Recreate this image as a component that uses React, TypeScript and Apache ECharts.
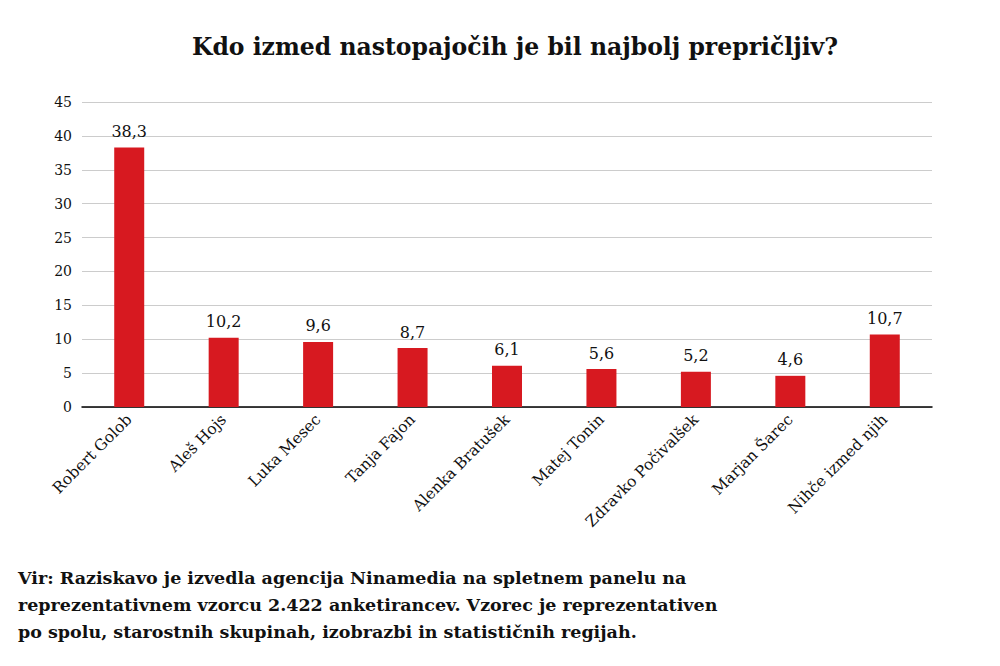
import React, { useEffect, useRef } from "react";
import * as echarts from "echarts";

const categories = [
  "Robert Golob",
  "Aleš Hojs",
  "Luka Mesec",
  "Tanja Fajon",
  "Alenka Bratušek",
  "Matej Tonin",
  "Zdravko Počivalšek",
  "Marjan Šarec",
  "Nihče izmed njih",
];
const values = [38.3, 10.2, 9.6, 8.7, 6.1, 5.6, 5.2, 4.6, 10.7];
const titleText = "Kdo izmed nastopajočih je bil najbolj prepričljiv?";
const footerLines = [
  "Vir: Raziskavo je izvedla agencija Ninamedia na spletnem panelu na",
  "reprezentativnem vzorcu 2.422 anketirancev. Vzorec je reprezentativen",
  "po spolu, starostnih skupinah, izobrazbi in statističnih regijah.",
];

const FONT = "DejaVu Serif";

export default function App() {
  const ref = useRef<HTMLDivElement>(null);
  useEffect(() => {
    if (!ref.current) return;
    const chart = echarts.init(ref.current, null, { renderer: "svg" });
    chart.setOption({
      animation: false,
      backgroundColor: "#ffffff",
      textStyle: { fontFamily: FONT },
      title: [
        {
          text: titleText,
          left: 502,
          textAlign: "center",
          top: 22,
          textStyle: { fontFamily: FONT, fontSize: 23.5, fontWeight: "bold", color: "#111111" },
        },
        {
          text: footerLines.join("\n"),
          left: 5,
          top: 551,
          textStyle: { fontFamily: FONT, fontSize: 17.5, fontWeight: "bold", color: "#111111", lineHeight: 27 },
        },
      ],
      grid: { left: 74, right: 60, top: 94, bottom: 251 },
      xAxis: {
        type: "category",
        data: categories,
        axisLine: { lineStyle: { color: "#000000", width: 1.5 } },
        axisTick: { show: false },
        axisLabel: {
          rotate: 45,
          fontFamily: FONT,
          fontSize: 15.5,
          color: "#111111",
          interval: 0,
          margin: 10,
        },
      },
      yAxis: {
        type: "value",
        min: 0,
        max: 45,
        interval: 5,
        axisLine: { show: false },
        axisTick: { show: false },
        splitLine: { lineStyle: { color: "#cccccc", width: 1 } },
        axisLabel: { fontFamily: FONT, fontSize: 14, color: "#111111", margin: 10 },
      },
      series: [
        {
          type: "bar",
          data: values,
          barWidth: 30,
          itemStyle: { color: "#d71920" },
          label: {
            show: true,
            position: "top",
            distance: 8,
            fontFamily: FONT,
            fontSize: 16,
            color: "#111111",
            formatter: (p: any) => String(p.value).replace(".", ","),
          },
        },
      ],
    });
    return () => chart.dispose();
  }, []);
  return <div ref={ref} style={{ width: 984, height: 650 }} />;
}
